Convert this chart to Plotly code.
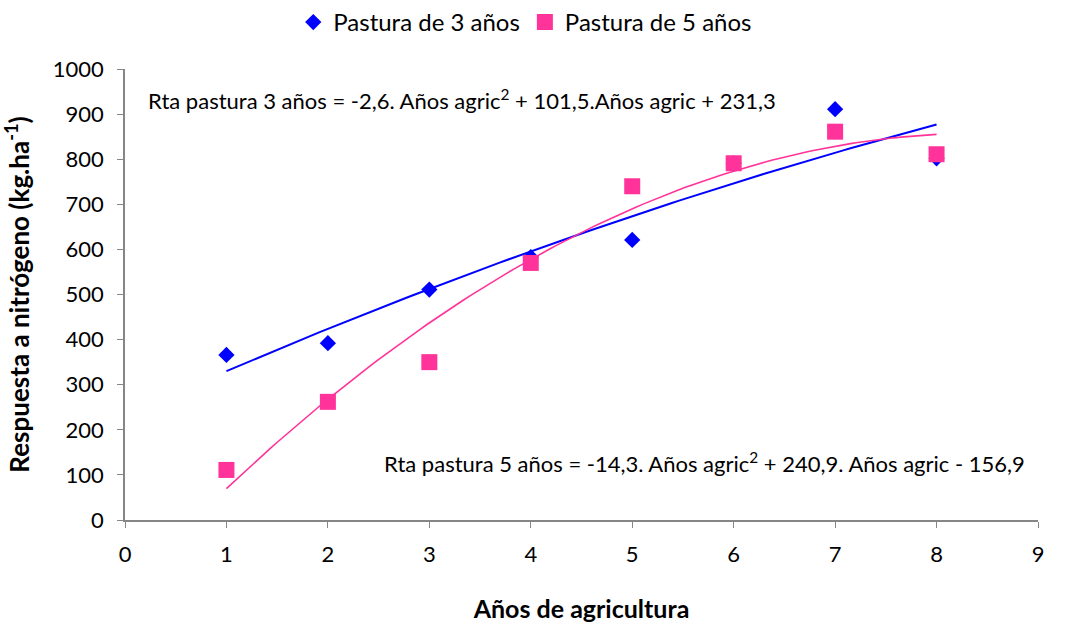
import numpy as np
import plotly.graph_objects as go

anios = [1, 2, 3, 4, 5, 6, 7, 8]
pastura3 = [366, 392, 511, 583, 621, 791, 911, 802]
pastura5 = [111, 262, 350, 570, 740, 791, 861, 811]

# trendline coefficients as printed on the chart (a*x^2 + b*x + c)
coef3 = [-2.6, 101.5, 231.3]
coef5 = [-14.3, 240.9, -156.9]

xt = np.linspace(1, 8, 100)
yt3 = np.polyval(coef3, xt)
yt5 = np.polyval(coef5, xt)

FONT = "Lato"
fig = go.Figure()
fig.add_trace(go.Scatter(x=xt, y=yt3, mode="lines", line=dict(color="#0000FF", width=2),
                         showlegend=False, hoverinfo="skip"))
fig.add_trace(go.Scatter(x=xt, y=yt5, mode="lines", line=dict(color="#FF3399", width=1.6),
                         showlegend=False, hoverinfo="skip"))
fig.add_trace(go.Scatter(x=anios, y=pastura3, mode="markers", name="Pastura de 3 años",
                         marker=dict(symbol="diamond", size=12.5, color="#0000FF")))
fig.add_trace(go.Scatter(x=anios, y=pastura5, mode="markers", name="Pastura de 5 años",
                         marker=dict(symbol="square", size=16, color="#FF3399")))

fig.add_annotation(x=0.207, y=933, xref="x", yref="y", xanchor="left", yanchor="middle",
                   text="Rta pastura 3 años = -2,6. Años agric<sup>2</sup> + 101,5.Años agric + 231,3",
                   showarrow=False, font=dict(family=FONT, size=22, color="#000"))
fig.add_annotation(x=2.53, y=128, xref="x", yref="y", xanchor="left", yanchor="middle",
                   text="Rta pastura 5 años = -14,3. Años agric<sup>2</sup> + 240,9. Años agric - 156,9",
                   showarrow=False, font=dict(family=FONT, size=22, color="#000"))

fig.update_layout(
    width=1072, height=623,
    margin=dict(l=125, r=34, t=69, b=103),
    paper_bgcolor="white", plot_bgcolor="white",
    font=dict(family=FONT, size=22, color="#000"),
    legend=dict(orientation="h", xref="container", yref="container", x=0.49, y=1.0,
                xanchor="center", yanchor="top", font=dict(size=24), itemwidth=30,
                tracegroupgap=0),
    xaxis=dict(range=[0, 9], dtick=1, showgrid=False, zeroline=False, showline=True,
               linecolor="#868686", linewidth=1.5, ticks="outside", ticklen=6,
               tickcolor="#868686", ticklabelstandoff=8, automargin=False,
               title=dict(text="<b>Años de agricultura</b>", font=dict(size=25), standoff=34)),
    yaxis=dict(range=[0, 1000], dtick=100, showgrid=False, zeroline=False, showline=True,
               linecolor="#868686", linewidth=1.5, ticks="outside", ticklen=6,
               tickcolor="#868686", ticklabelstandoff=9, automargin=False,
               title=dict(text="<b>Respuesta a nitrógeno (kg.ha<sup>-1</sup>)</b>", font=dict(size=26), standoff=18)),
)
fig.write_html("out.html", config={"displayModeBar": False},
               post_script="document.body.style.margin='0';document.body.style.padding='0';")
